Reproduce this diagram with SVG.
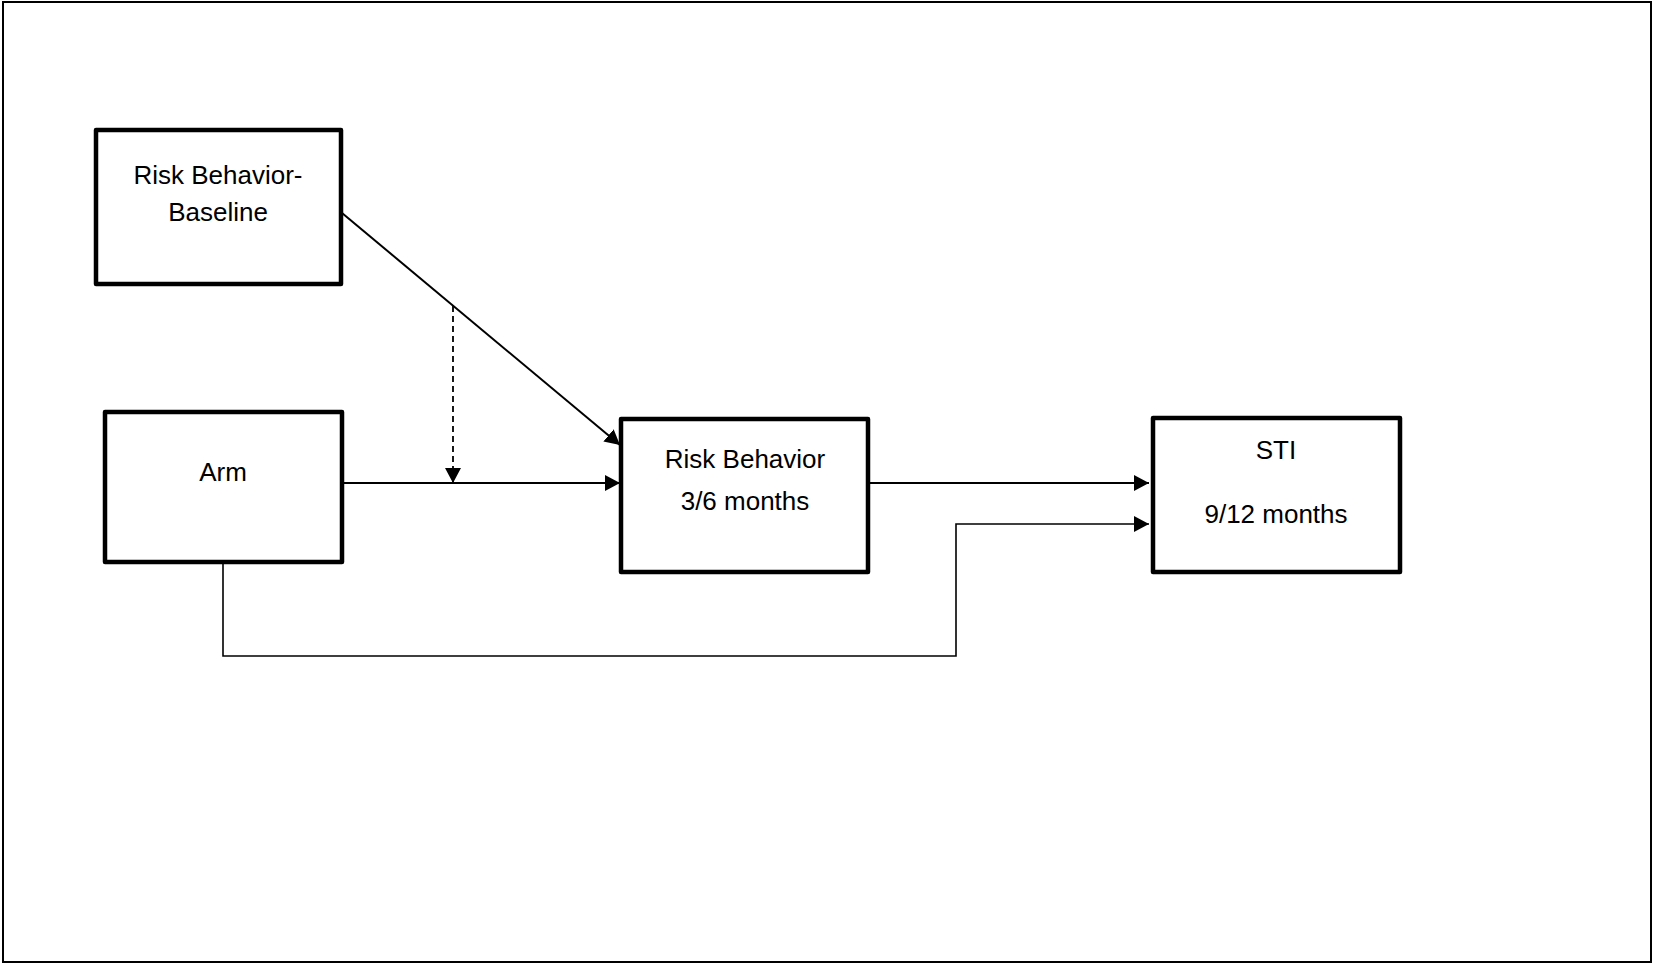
<svg xmlns="http://www.w3.org/2000/svg" width="1654" height="964" viewBox="0 0 1654 964">
<style>
.box{fill:#fff;stroke:#000;stroke-width:4.5;stroke-linejoin:round}
.lbl{font-family:"Liberation Sans",Arial,sans-serif;font-size:26px;fill:#000;text-anchor:middle}
.con{fill:none;stroke:#000;stroke-width:2}
.thin{fill:none;stroke:#000;stroke-width:1.6}
.dash{fill:none;stroke:#000;stroke-width:1.8;stroke-dasharray:6 4}
</style>
<defs>
<marker id="arr" markerUnits="userSpaceOnUse" markerWidth="17" markerHeight="17" refX="15" refY="8" orient="auto">
<path d="M0,0 L15,8 L0,16 Z" fill="#000"/>
</marker>
</defs>
<rect x="3" y="2" width="1648" height="960" fill="#fff" stroke="#000" stroke-width="2"/>
<g id="connectors">
<line class="con" x1="342" y1="213" x2="620" y2="445" marker-end="url(#arr)"/>
<line class="dash" x1="453" y1="306" x2="453" y2="483" marker-end="url(#arr)"/>
<line class="con" x1="342" y1="483" x2="620" y2="483" marker-end="url(#arr)"/>
<line class="con" x1="868" y1="483" x2="1149" y2="483" marker-end="url(#arr)"/>
<path class="thin" d="M223,563 V656 H956 V524 H1149" marker-end="url(#arr)"/>
</g>
<g id="node-baseline">
<rect class="box" x="96" y="130" width="245" height="154"/>
<text class="lbl" x="218" y="184">Risk Behavior-</text>
<text class="lbl" x="218" y="221">Baseline</text>
</g>
<g id="node-arm">
<rect class="box" x="105" y="412" width="237" height="150"/>
<text class="lbl" x="223" y="481">Arm</text>
</g>
<g id="node-riskbehavior">
<rect class="box" x="621" y="419" width="247" height="153"/>
<text class="lbl" x="745" y="468">Risk Behavior</text>
<text class="lbl" x="745" y="510">3/6 months</text>
</g>
<g id="node-sti">
<rect class="box" x="1153" y="418" width="247" height="154"/>
<text class="lbl" x="1276" y="459">STI</text>
<text class="lbl" x="1276" y="523">9/12 months</text>
</g>
</svg>
